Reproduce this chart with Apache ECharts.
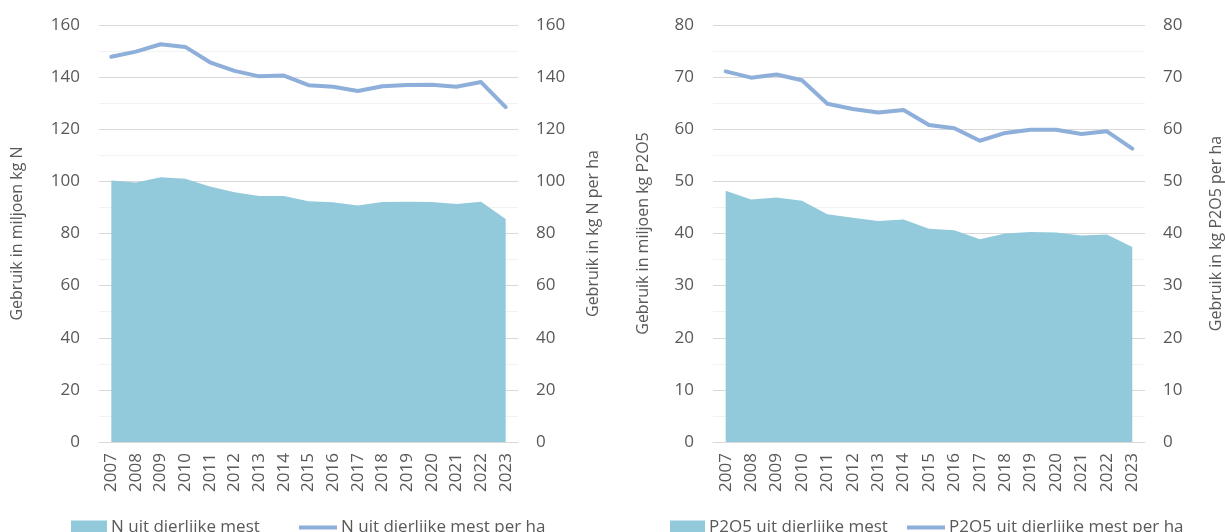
<!DOCTYPE html>
<html>
<head>
<meta charset="utf-8">
<script src="https://cdn.jsdelivr.net/npm/echarts@6/dist/echarts.min.js"></script>
<style>
html,body{margin:0;padding:0;background:#fff;}
#c{width:1225px;height:532px;}
</style>
</head>
<body>
<div id="c"></div>
<script>
var years = ['2007','2008','2009','2010','2011','2012','2013','2014','2015','2016','2017','2018','2019','2020','2021','2022','2023'];
var nTotal = [100.3,99.6,101.6,101.0,98.0,95.8,94.4,94.4,92.4,92.0,90.7,92.1,92.2,92.1,91.3,92.2,85.6];
var nPerHa = [147.8,149.8,152.6,151.6,145.7,142.4,140.3,140.6,136.9,136.3,134.7,136.5,137.0,137.1,136.3,138.1,128.5];
var pTotal = [48.2,46.5,46.9,46.3,43.7,43.0,42.4,42.7,40.9,40.6,38.9,40.0,40.3,40.2,39.6,39.8,37.4];
var pPerHa = [71.1,69.9,70.5,69.4,64.9,63.9,63.2,63.7,60.8,60.2,57.8,59.3,59.9,59.9,59.1,59.6,56.3];

var nNames = ['N uit dierlijke mest','N uit dierlijke mest per ha'];
var pNames = ['P2O5 uit dierlijke mest','P2O5 uit dierlijke mest per ha'];
var yTitles = ['Gebruik in miljoen kg N','Gebruik in kg N per ha','Gebruik in miljoen kg P2O5','Gebruik in kg P2O5 per ha'];

var AREA = '#92CADB';
var LINE = '#8EAFDA';
var TXT = '#595959';
var FONT = 'Open Sans';

function yAx(grid, pos, max, interval, name, gap, margin){
  return {
    type:'value', gridIndex:grid, position:pos, min:0, max:max, interval:interval,
    name:name, nameLocation:'middle', nameGap:gap, nameRotate:90,
    nameTextStyle:{color:TXT, fontFamily:FONT, fontSize:16},
    axisLine:{show:false}, axisTick:{show:false},
    axisLabel:{color:TXT, fontFamily:FONT, fontSize:17, margin:margin},
    splitLine:{show: pos==='left', lineStyle:{color:'#D9D9D9', width:1}},
    minorTick:{show:false, splitNumber:2},
    minorSplitLine:{show: pos==='left', lineStyle:{color:'#F2F2F2', width:1}}
  };
}
function xAx(grid){
  return {
    type:'category', gridIndex:grid, data:years, boundaryGap:true,
    axisLine:{show:true, lineStyle:{color:'#D9D9D9', width:1}},
    axisTick:{show:false},
    axisLabel:{color:TXT, fontFamily:FONT, fontSize:17, rotate:90, margin:11, interval:0}
  };
}
function leg(name, left, w, h, icon){
  return {
    data:[{name:name, icon:icon}], left:left, top:519, padding:0,
    itemWidth:w, itemHeight:h, orient:'horizontal',
    textStyle:{color:TXT, fontFamily:FONT, fontSize:17, lineHeight:14, padding:[0,0,0,-1]},
    selectedMode:false
  };
}

var chart = echarts.init(document.getElementById('c'), null, {renderer:'canvas'});
chart.setOption({
  animation:false,
  grid:[
    {left:99, width:419, top:25, height:417},
    {left:713, width:439, top:25, height:417}
  ],
  xAxis:[xAx(0), xAx(1)],
  yAxis:[
    yAx(0,'left',160,20,yTitles[0],74,19),
    yAx(0,'right',160,20,yTitles[1],67,18),
    yAx(1,'left',80,10,yTitles[2],62,19),
    yAx(1,'right',80,10,yTitles[3],63,18)
  ],
  legend:[
    leg(nNames[0],71,36,14,'rect'),
    leg(nNames[1],299,38,4,'rect'),
    leg(pNames[0],670,35,14,'rect'),
    leg(pNames[1],907,38,4,'rect')
  ],
  series:[
    {name:nNames[0], type:'line', xAxisIndex:0, yAxisIndex:0, data:nTotal, symbol:'none',
     lineStyle:{width:0}, itemStyle:{color:AREA}, areaStyle:{color:AREA, opacity:1}},
    {name:nNames[1], type:'line', xAxisIndex:0, yAxisIndex:1, data:nPerHa, symbol:'none',
     lineStyle:{width:4, color:LINE, cap:'round', join:'round'}, itemStyle:{color:LINE}},
    {name:pNames[0], type:'line', xAxisIndex:1, yAxisIndex:2, data:pTotal, symbol:'none',
     lineStyle:{width:0}, itemStyle:{color:AREA}, areaStyle:{color:AREA, opacity:1}},
    {name:pNames[1], type:'line', xAxisIndex:1, yAxisIndex:3, data:pPerHa, symbol:'none',
     lineStyle:{width:4, color:LINE, cap:'round', join:'round'}, itemStyle:{color:LINE}}
  ]
});
</script>
</body>
</html>
